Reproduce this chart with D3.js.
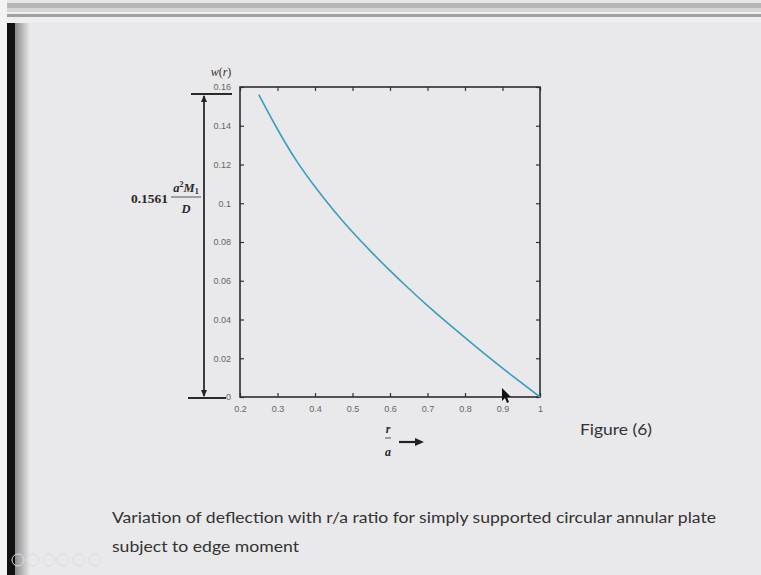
<!DOCTYPE html>
<html>
<head>
<meta charset="utf-8">
<script src="https://cdn.jsdelivr.net/npm/d3@7"></script>
<style>
  html, body { margin: 0; padding: 0; background: #e9e8eb; }
  svg { display: block; }
</style>
</head>
<body>
<svg id="fig" width="761" height="575"></svg>
<script>
// r/a ratio and deflection values
var ratio = [0.25, 0.30, 0.35, 0.40, 0.45, 0.50, 0.55, 0.60, 0.65, 0.70, 0.75, 0.80, 0.85, 0.90, 0.95, 1.00];
var deflection = [0.1561, 0.1382, 0.1221, 0.1085, 0.0963, 0.0852, 0.0749, 0.0652, 0.0560, 0.0472, 0.0388, 0.0306, 0.0226, 0.0149, 0.0074, 0.0];
var xTicks = [0.2, 0.3, 0.4, 0.5, 0.6, 0.7, 0.8, 0.9, 1];
var yTicks = [0, 0.02, 0.04, 0.06, 0.08, 0.1, 0.12, 0.14, 0.16];
var captionLines = [
  'Variation of deflection with r/a ratio for simply supported circular annular plate',
  'subject to edge moment'
];

var svg = d3.select('#fig');
var W = 761, H = 575;

// slide chrome
svg.append('rect').attr('width', W).attr('height', H).attr('fill', '#e9e8eb');
var bands = [[0, 3, '#e6e6e6'], [3, 5, '#b7b7b7'], [8, 4, '#d6d6d6'], [12, 2, '#efefef'], [14, 3, '#9da2a9'], [17, 6, '#efefef']];
bands.forEach(function(b) {
  svg.append('rect').attr('x', 0).attr('y', b[0]).attr('width', W).attr('height', b[1]).attr('fill', b[2]);
});
var defs = svg.append('defs');
var grad = defs.append('linearGradient').attr('id', 'shade');
grad.append('stop').attr('offset', '0%').attr('stop-color', '#8a8a8a');
grad.append('stop').attr('offset', '100%').attr('stop-color', '#e9e8eb');
svg.append('rect').attr('x', 0).attr('y', 0).attr('width', 7).attr('height', H).attr('fill', '#f3f3f3');
svg.append('rect').attr('x', 7).attr('y', 23).attr('width', 8).attr('height', H - 23).attr('fill', '#111');
svg.append('rect').attr('x', 15).attr('y', 23).attr('width', 15).attr('height', H - 23).attr('fill', 'url(#shade)');
[18, 33, 49, 63, 79, 95].forEach(function(cx) {
  svg.append('circle').attr('cx', cx).attr('cy', 560).attr('r', 6)
    .attr('fill', 'none').attr('stroke', '#dcdce0').attr('stroke-width', 1);
});

// plot box
var pLeft = 240, pRight = 540, pTop = 87, pBottom = 397;
var x = d3.scaleLinear().domain([0.2, 1]).range([pLeft, pRight]);
var y = d3.scaleLinear().domain([0, 0.16]).range([pBottom, pTop]);

var g = svg.append('g');
var tickFont = 'Liberation Sans Narrow, Liberation Sans, Arial, sans-serif';

function styleAxis(sel) {
  sel.select('.domain').remove();
  sel.selectAll('.tick line').attr('stroke', '#333').attr('stroke-width', 1.2);
  sel.selectAll('.tick text').attr('fill', '#666').style('font-family', tickFont).style('font-size', '9px');
}

g.append('g').attr('transform', 'translate(0,' + pBottom + ')')
  .call(d3.axisBottom(x).tickValues(xTicks).tickSizeInner(-4).tickSizeOuter(0).tickPadding(9).tickFormat(d3.format('~g')))
  .call(styleAxis);
g.append('g').attr('transform', 'translate(0,' + pTop + ')')
  .call(d3.axisTop(x).tickValues(xTicks).tickSizeInner(-4).tickSizeOuter(0).tickFormat(''))
  .call(styleAxis);
g.append('g').attr('transform', 'translate(' + pLeft + ',0)')
  .call(d3.axisLeft(y).tickValues(yTicks).tickSizeInner(-4).tickSizeOuter(0).tickPadding(9).tickFormat(d3.format('~g')))
  .call(styleAxis);
g.append('g').attr('transform', 'translate(' + pRight + ',0)')
  .call(d3.axisRight(y).tickValues(yTicks).tickSizeInner(-4).tickSizeOuter(0).tickFormat(''))
  .call(styleAxis);

g.append('rect').attr('x', pLeft).attr('y', pTop).attr('width', pRight - pLeft).attr('height', pBottom - pTop)
  .attr('fill', 'none').attr('stroke', '#2e2e2e').attr('stroke-width', 1.6);

// curve
var line = d3.line().curve(d3.curveNatural)
  .x(function(d, i) { return x(ratio[i]); })
  .y(function(d) { return y(d); });
g.append('path').datum(deflection).attr('d', line)
  .attr('fill', 'none').attr('stroke', '#3b9dbf').attr('stroke-width', 1.6);

// y label w(r)
var serif = 'Liberation Serif, Times New Roman, serif';
var wl = svg.append('text').attr('x', 221).attr('y', 76).attr('text-anchor', 'middle')
  .style('font-family', serif).style('font-size', '12px').attr('fill', '#333');
wl.append('tspan').style('font-style', 'italic').text('w');
wl.append('tspan').text('(');
wl.append('tspan').style('font-style', 'italic').text('r');
wl.append('tspan').text(')');

// dimension arrow on the left
var dimX = 204;
var ann = svg.append('g').attr('stroke', '#2a2a2a').attr('stroke-width', 2.2);
ann.append('line').attr('x1', 191).attr('x2', 232).attr('y1', 94).attr('y2', 94);
ann.append('line').attr('x1', 188).attr('x2', 226).attr('y1', 398).attr('y2', 398);
ann.append('line').attr('x1', dimX).attr('x2', dimX).attr('y1', 96).attr('y2', 396).attr('stroke-width', 1.8);
svg.append('path').attr('d', 'M' + dimX + ',95 l-3,7 l6,0 z').attr('fill', '#222');
svg.append('path').attr('d', 'M' + dimX + ',397 l-3,-7 l6,0 z').attr('fill', '#222');

var dl = svg.append('g').attr('fill', '#2a2a2a').style('font-family', serif).style('font-weight', 'bold');
dl.append('text').attr('x', 168).attr('y', 203).attr('text-anchor', 'end').style('font-size', '13.5px').text('0.1561');
var num = dl.append('text').attr('x', 186).attr('y', 192).attr('text-anchor', 'middle').style('font-size', '12.5px').style('font-style', 'italic');
num.append('tspan').text('a');
num.append('tspan').attr('dy', -5).style('font-size', '8px').style('font-style', 'normal').text('2');
num.append('tspan').attr('dy', 5).text('M');
num.append('tspan').attr('dy', 2).style('font-size', '8px').style('font-style', 'normal').text('1');
svg.append('line').attr('x1', 171).attr('x2', 201).attr('y1', 197).attr('y2', 197).attr('stroke', '#555').attr('stroke-width', 1);
dl.append('text').attr('x', 186).attr('y', 213).attr('text-anchor', 'middle').style('font-size', '12.5px').style('font-style', 'italic').text('D');

// x label r/a with arrow
var xl = svg.append('g').attr('fill', '#2a2a2a').style('font-family', serif).style('font-weight', 'bold').style('font-style', 'italic');
xl.append('text').attr('x', 388).attr('y', 433).attr('text-anchor', 'middle').style('font-size', '12px').text('r');
svg.append('line').attr('x1', 385).attr('x2', 391).attr('y1', 438).attr('y2', 438).attr('stroke', '#555').attr('stroke-width', 1);
xl.append('text').attr('x', 388).attr('y', 456).attr('text-anchor', 'middle').style('font-size', '12px').text('a');
svg.append('line').attr('x1', 399).attr('x2', 416).attr('y1', 442).attr('y2', 442).attr('stroke', '#222').attr('stroke-width', 2.2);
svg.append('path').attr('d', 'M424,442 l-9,-4 l0,8 z').attr('fill', '#222');

// cursor
svg.append('path').attr('d', 'M502,388 l0,13 l3,-3 l2,5 l2,-1 l-2,-5 l4,0 z').attr('fill', '#111');

// figure number & caption
var sans = 'Lato, Open Sans, sans-serif';
svg.append('text').attr('x', 580).attr('y', 435).style('font-family', sans).style('font-size', '15px')
  .attr('fill', '#333').attr('textLength', 72).attr('lengthAdjust', 'spacingAndGlyphs').text('Figure (6)');
svg.selectAll('text.cap').data(captionLines).enter().append('text').attr('class', 'cap')
  .attr('x', 112).attr('y', function(d, i) { return 523 + i * 29; })
  .style('font-family', sans).style('font-size', '16px').attr('fill', '#333')
  .attr('textLength', function(d, i) { return i === 0 ? 604 : 187; })
  .attr('lengthAdjust', 'spacingAndGlyphs')
  .text(function(d) { return d; });
</script>
</body>
</html>
